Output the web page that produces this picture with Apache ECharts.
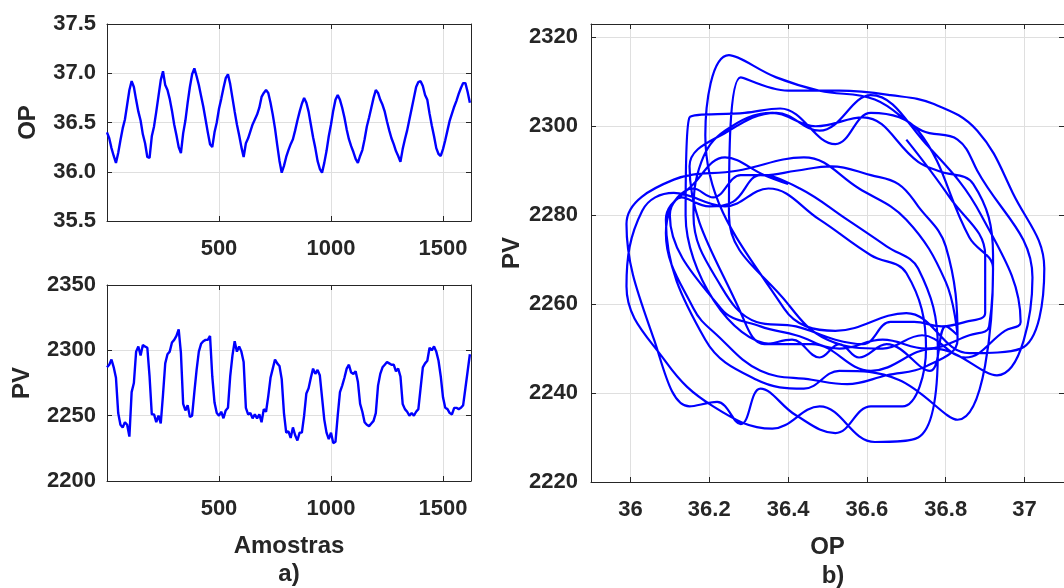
<!DOCTYPE html>
<html><head><meta charset="utf-8">
<script src="https://cdn.jsdelivr.net/npm/echarts@6/dist/echarts.min.js"></script>
<style>html,body{margin:0;padding:0;background:#fff}#c{width:1064px;height:588px}</style>
</head><body><div id="c"></div>
<script>
// sample index (Amostras) at which OP and PV were read
const samples = [0,10,20,30,40,50,60,70,80,90,100,110,120,130,140,150,160,170,180,190,
200,210,220,230,240,250,260,270,280,290,300,310,320,330,340,350,360,370,380,390,
400,410,420,430,440,450,460,470,480,490,500,510,520,530,540,550,560,570,580,590,
600,610,620,630,640,650,660,670,680,690,700,710,720,730,740,750,760,770,780,790,
800,810,820,830,840,850,860,870,880,890,900,910,920,930,940,950,960,970,980,990,
1000,1010,1020,1030,1040,1050,1060,1070,1080,1090,1100,1110,1120,1130,1140,1150,1160,1170,1180,1190,
1200,1210,1220,1230,1240,1250,1260,1270,1280,1290,1300,1310,1320,1330,1340,1350,1360,1370,1380,1390,
1400,1410,1420,1430,1440,1450,1460,1470,1480,1490,1500,1510,1520,1530,1540,1550,1560,1570,1580,1590,
1600,1610,1620];

const opValues = [36.40,36.34,36.24,36.16,36.09,36.19,36.32,36.44,36.53,36.68,
36.83,36.92,36.86,36.73,36.61,36.52,36.38,36.29,36.15,36.14,
36.36,36.46,36.61,36.77,36.93,37.02,36.88,36.83,36.74,36.62,
36.48,36.37,36.25,36.19,36.39,36.52,36.70,36.86,36.99,37.05,
36.97,36.88,36.77,36.66,36.53,36.40,36.28,36.25,36.40,36.50,
36.64,36.74,36.85,36.95,36.99,36.89,36.75,36.61,36.48,36.37,
36.25,36.15,36.29,36.34,36.41,36.48,36.53,36.58,36.65,36.76,
36.80,36.83,36.80,36.70,36.58,36.44,36.27,36.11,35.99,36.06,
36.15,36.22,36.28,36.33,36.42,36.52,36.61,36.69,36.75,36.70,
36.61,36.48,36.35,36.24,36.11,36.03,35.99,36.09,36.21,36.36,
36.48,36.62,36.73,36.78,36.73,36.65,36.55,36.43,36.33,36.26,
36.20,36.13,36.09,36.16,36.22,36.33,36.46,36.55,36.65,36.75,
36.83,36.80,36.73,36.68,36.61,36.51,36.42,36.34,36.28,36.21,
36.16,36.10,36.23,36.33,36.42,36.53,36.64,36.75,36.86,36.91,
36.92,36.87,36.78,36.73,36.59,36.47,36.36,36.24,36.18,36.16,
36.23,36.32,36.42,36.52,36.59,36.66,36.72,36.79,36.85,36.90,
36.90,36.81,36.70];

const pvValues = [2287,2289,2293,2287,2279,2252,2243,2241,2245,2243,
2234,2268,2275,2299,2303,2296,2304,2303,2302,2280,
2251,2251,2245,2250,2244,2266,2290,2297,2299,2306,
2308,2311,2316,2298,2259,2254,2258,2249,2250,2268,
2285,2299,2305,2307,2308,2308,2311,2280,2260,2252,
2250,2253,2248,2254,2256,2280,2296,2307,2299,2303,
2299,2291,2256,2251,2252,2248,2251,2248,2251,2245,
2255,2253,2265,2279,2286,2293,2290,2288,2278,2252,
2237,2238,2233,2241,2235,2231,2237,2237,2250,2267,
2271,2279,2286,2282,2285,2281,2264,2247,2237,2232,
2237,2229,2230,2250,2268,2273,2279,2286,2289,2283,
2282,2284,2276,2259,2253,2245,2243,2242,2244,2246,
2252,2273,2282,2287,2289,2291,2290,2289,2289,2284,
2286,2280,2259,2255,2253,2250,2252,2250,2253,2255,
2271,2287,2290,2292,2302,2300,2303,2299,2292,2280,
2264,2256,2255,2252,2251,2256,2256,2255,2256,2258,
2271,2284,2297];

const phaseXTicks = [36, 36.2, 36.4, 36.6, 36.8, 37];

const AX = '#262626';
const GRID = '#dfdfdf';
const FF = '"Liberation Sans", Arial, sans-serif';
const BLUE = '#0000ff';
const lbl = {color: AX, fontSize: 22, fontWeight: 'bold', fontFamily: FF};
const nameStyle = {color: AX, fontSize: 24, fontWeight: 'bold', fontFamily: FF};
const tick = {show: true, inside: true, length: 5, lineStyle: {color: AX, width: 1}};
const line = {show: true, onZero: false, lineStyle: {color: AX, width: 1}};

function mainAxis(o) {
  return Object.assign({type: 'value', axisLine: line, axisTick: tick,
    splitLine: {show: true, lineStyle: {color: GRID, width: 1}}}, o);
}
function boxAxis(o) {
  return Object.assign({type: 'value', axisLine: line, axisTick: tick,
    axisLabel: {show: false}, splitLine: {show: false}}, o);
}

const chart = echarts.init(document.getElementById('c'), null, {renderer: 'canvas'});
const sampleFmt = v => (v > 0 && v % 500 === 0) ? String(v) : '';
const plainFmt = v => String(v);

chart.setOption({
  animation: false,
  backgroundColor: '#ffffff',
  grid: [
    {left: 107, top: 24, width: 364, height: 197},
    {left: 107, top: 285, width: 364, height: 196},
    {left: 591, top: 24, width: 484, height: 458}
  ],
  xAxis: [
    mainAxis({gridIndex: 0, position: 'bottom', min: 0, max: 1625, interval: 500,
      axisLabel: Object.assign({margin: 17, formatter: sampleFmt}, lbl)}),
    boxAxis({gridIndex: 0, position: 'top', min: 0, max: 1625, interval: 500}),
    mainAxis({gridIndex: 1, position: 'bottom', min: 0, max: 1625, interval: 500,
      axisLabel: Object.assign({margin: 17, formatter: sampleFmt}, lbl),
      name: 'Amostras', nameLocation: 'middle', nameGap: 53, nameTextStyle: nameStyle}),
    boxAxis({gridIndex: 1, position: 'top', min: 0, max: 1625, interval: 500}),
    mainAxis({gridIndex: 2, position: 'bottom', min: 35.9, max: 37.1,
      axisTick: Object.assign({customValues: phaseXTicks}, tick),
      axisLabel: Object.assign({margin: 17, customValues: phaseXTicks}, lbl),
      name: 'OP', nameLocation: 'middle', nameGap: 53, nameTextStyle: nameStyle}),
    boxAxis({gridIndex: 2, position: 'top', min: 35.9, max: 37.1,
      axisTick: Object.assign({customValues: phaseXTicks}, tick)})
  ],
  yAxis: [
    mainAxis({gridIndex: 0, position: 'left', min: 35.5, max: 37.5, interval: 0.5,
      axisLabel: Object.assign({margin: 11, formatter: v => v.toFixed(1)}, lbl),
      name: 'OP', nameLocation: 'middle', nameGap: 67, nameTextStyle: nameStyle}),
    boxAxis({gridIndex: 0, position: 'right', min: 35.5, max: 37.5, interval: 0.5}),
    mainAxis({gridIndex: 1, position: 'left', min: 2200, max: 2350, interval: 50,
      axisLabel: Object.assign({margin: 11, formatter: plainFmt}, lbl),
      name: 'PV', nameLocation: 'middle', nameGap: 73, nameTextStyle: nameStyle}),
    boxAxis({gridIndex: 1, position: 'right', min: 2200, max: 2350, interval: 50}),
    mainAxis({gridIndex: 2, position: 'left', min: 2220, max: 2323, interval: 20,
      axisLabel: Object.assign({margin: 13, formatter: v => (v % 20 === 0) ? String(v) : ''}, lbl),
      name: 'PV', nameLocation: 'middle', nameGap: 67, nameTextStyle: nameStyle}),
    boxAxis({gridIndex: 2, position: 'right', min: 2220, max: 2323, interval: 20})
  ],
  graphic: [
    {type: 'text', x: 289, y: 574, style: {text: 'a)', fill: AX, font: 'bold 24px "Liberation Sans", Arial, sans-serif', align: 'center', verticalAlign: 'middle'}},
    {type: 'text', x: 833, y: 576, style: {text: 'b)', fill: AX, font: 'bold 24px "Liberation Sans", Arial, sans-serif', align: 'center', verticalAlign: 'middle'}}
  ],
  series: [
    {type: 'line', xAxisIndex: 0, yAxisIndex: 0, showSymbol: false, symbol: 'none',
      lineStyle: {color: BLUE, width: 2.4}, data: samples.map((s, i) => [s, opValues[i]])},
    {type: 'line', xAxisIndex: 2, yAxisIndex: 2, showSymbol: false, symbol: 'none',
      lineStyle: {color: BLUE, width: 2.4}, data: samples.map((s, i) => [s, pvValues[i]])},
    {type: 'line', xAxisIndex: 4, yAxisIndex: 4, showSymbol: false, symbol: 'none', smooth: 0.4,
      lineStyle: {color: BLUE, width: 2.2}, data: opValues.map((v, i) => [v, pvValues[i]])}
  ]
});
</script>
</body></html>
